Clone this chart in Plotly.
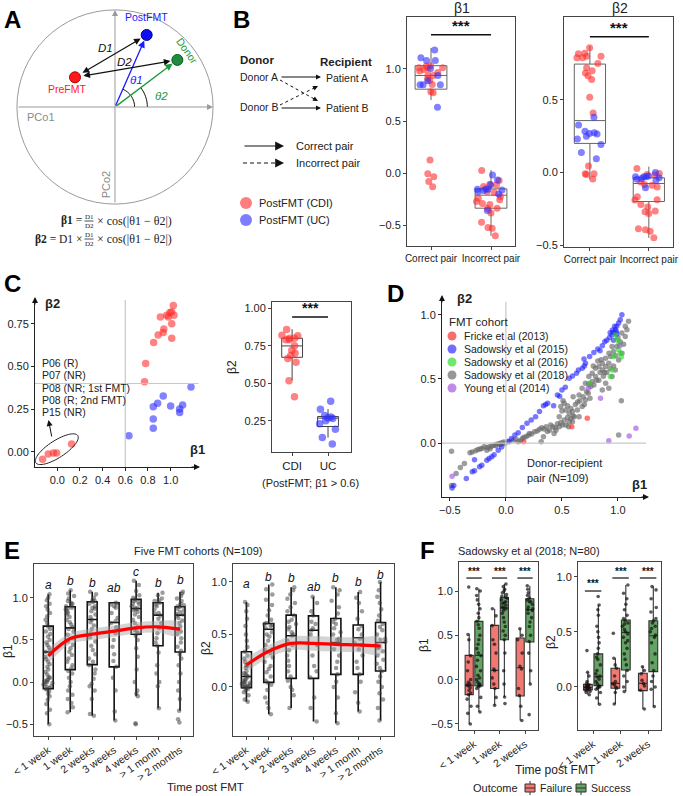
import math
import plotly.graph_objects as go

W, H = 683, 796
FONT = "Liberation Sans, Arial, sans-serif"
SERIF = "Liberation Serif, DejaVu Serif, serif"


def fx(px):
    return px / W


def fy(py):
    return 1 - py / H


# ======================= DATA =======================
# Panel A schematic (PCoA positions)
schem_names = ["PreFMT", "PostFMT", "Donor"]
schem_pc1 = [-0.408, 0.323, 0.636]
schem_pc2 = [0.306, 0.742, 0.485]

# Panels B/C: correct donor-recipient pairs
cdi_beta1 = [1.024, 0.994, 1.009, 0.965, 0.98, 0.91, 1.03, 1.01, 0.94, 0.935, 0.89, 0.85, 1.01, 0.78, 0.77,
             0.126, -0.006, -0.035, -0.08, -0.13]
cdi_beta2 = [0.858, 0.817, 0.82, 0.80, 0.79, 0.79, 0.80, 0.75, 0.72, 0.70, 0.685, 0.64, 0.665, 0.517, 0.41,
             0.045, -0.008, -0.008, -0.014, -0.045]
uc_beta1 = [1.18, 0.935, 0.885, 0.847, 1.0, 1.106, 1.08, 1.08, 0.847, 0.847, 0.632]
uc_beta2 = [0.38, 0.327, 0.284, 0.264, 0.268, 0.274, 0.25, 0.23, 0.192, 0.137, 0.094]

# Panel B: incorrect pairs
inc_cdi_beta1 = [0.026, -0.105, -0.07, -0.128, -0.112, -0.24, -0.27, -0.29, -0.185, -0.224, -0.335, -0.335,
                 -0.38, -0.47, -0.52, -0.527, -0.60, -0.255, -0.30, -0.176]
inc_uc_beta1 = [-0.016, -0.11, -0.064, -0.15, -0.153, -0.153, -0.176, -0.198, -0.358, -0.16, -0.166]
inc_cdi_beta2 = [0.028, -0.007, -0.014, -0.018, -0.065, -0.088, -0.10, -0.168, -0.187, -0.19, -0.22, -0.237,
                 -0.265, -0.27, -0.283, -0.405, -0.394, -0.45, -0.387, -0.083]
inc_uc_beta2 = [0.0, -0.03, -0.037, -0.03, -0.041, -0.053, -0.03, -0.106, -0.025, -0.046]

pair_cats = ["Correct pair", "Incorrect pair"]
b1_q1, b1_med, b1_q3, b1_lo, b1_hi = [0.805, -0.335], [0.936, -0.21], [1.03, -0.15], [0.70, -0.60], [1.20, 0.03]
b2_q1, b2_med, b2_q3, b2_lo, b2_hi = [0.20, -0.20], [0.357, -0.076], [0.746, -0.037], [-0.046, -0.45], [0.87, 0.04]

# Panel C (right): correct pairs with beta1 > 0.6
c_cats = ["CDI", "UC"]
c2_q1, c2_med, c2_q3, c2_lo, c2_hi = [0.673, 0.211], [0.749, 0.267], [0.80, 0.278], [0.52, 0.137], [0.86, 0.327]
c_labels = ["P06 (R)", "P07 (NR)", "P08 (NR; 1st FMT)", "P08 (R; 2nd FMT)", "P15 (NR)"]

# Panel D: all donor-recipient pairs, (beta1, beta2) by cohort
d_cohorts = ["Fricke et al (2013)", "Sadowsky et al (2015)", "Sadowsky et al (2016)",
             "Sadowsky et al (2018)", "Young et al (2014)"]
d_fricke = [(0.726, 0.193), (0.588, 0.128), (0.159, 0.01)]
d_s15 = [(-0.48, -0.35), (-0.465, -0.33), (-0.353, -0.276), (-0.30, -0.224), (-0.28, -0.215), (-0.28, -0.13),
         (-0.235, -0.185), (-0.215, -0.172), (-0.17, -0.133), (-0.15, -0.12), (-0.126, -0.107), (-0.105, -0.09),
         (-0.068, -0.055), (-0.038, -0.03), (0.02, 0.015), (0.05, 0.036), (0.08, 0.063), (0.11, 0.08),
         (0.147, 0.122), (0.188, 0.154), (0.226, 0.18), (0.265, 0.206), (0.30, 0.245), (0.335, 0.29),
         (0.355, 0.30), (0.373, 0.31), (0.426, 0.29), (0.46, 0.375), (0.48, 0.365), (0.50, 0.414),
         (0.53, 0.435), (0.565, 0.505), (0.594, 0.523), (0.63, 0.544), (0.647, 0.57), (0.682, 0.583),
         (0.70, 0.60), (0.71, 0.622), (0.697, 0.654), (0.747, 0.674), (0.785, 0.706), (0.82, 0.732),
         (0.86, 0.758), (0.882, 0.79), (0.90, 0.80), (0.924, 0.823), (0.947, 0.844), (0.96, 0.862),
         (0.976, 0.883), (0.99, 0.909), (1.006, 0.935), (1.02, 0.96), (1.035, 1.0), (0.95, 0.88),
         (0.97, 0.91), (0.985, 0.87), (0.93, 0.86), (0.99, 0.85), (0.96, 0.80), (0.84, 0.72)]
d_s16 = [(0.976, 0.844), (0.99, 0.805), (1.006, 0.727), (1.02, 0.70), (1.03, 0.67), (0.947, 0.57),
         (0.932, 0.518), (0.747, 0.466), (0.96, 0.674), (1.01, 0.78)]
d_s18 = [(-0.485, -0.33), (-0.485, -0.063), (-0.444, -0.237), (-0.406, -0.19), (-0.37, -0.16), (-0.32, -0.076),
         (-0.30, -0.07), (-0.27, -0.06), (-0.25, -0.05), (-0.23, -0.047), (-0.215, -0.042), (-0.194, -0.029),
         (-0.17, -0.034), (-0.17, -0.055), (-0.147, -0.029), (-0.14, -0.044), (-0.126, -0.023), (-0.106, -0.016),
         (-0.09, -0.02), (-0.082, -0.01), (-0.06, -0.003), (-0.05, -0.012), (-0.038, 0.003), (-0.018, 0.008),
         (-0.01, -0.005), (0.03, 0.01), (0.065, 0.023), (0.09, 0.03), (0.11, 0.01), (0.13, 0.02),
         (0.147, 0.036), (0.16, 0.045), (0.18, 0.05), (0.2, 0.06), (0.21, 0.075), (0.23, 0.07), (0.256, 0.088),
         (0.28, 0.095), (0.30, 0.107), (0.315, 0.01), (0.32, 0.12), (0.335, 0.05), (0.34, 0.11), (0.36, 0.128),
         (0.37, 0.09), (0.39, 0.10), (0.40, 0.14), (0.418, 0.128), (0.43, 0.075), (0.44, 0.12), (0.447, 0.10),
         (0.46, 0.15), (0.476, 0.128), (0.49, 0.16), (0.506, 0.14), (0.52, 0.18), (0.535, 0.14), (0.55, 0.2),
         (0.56, 0.128), (0.565, 0.167), (0.58, 0.19), (0.594, 0.167), (0.60, 0.21), (0.476, 0.206),
         (0.49, 0.284), (0.50, 0.25), (0.51, 0.33), (0.52, 0.31), (0.535, 0.258), (0.55, 0.29), (0.565, 0.232),
         (0.58, 0.27), (0.594, 0.245), (0.61, 0.206), (0.62, 0.30), (0.638, 0.258), (0.653, 0.206), (0.66, 0.33),
         (0.68, 0.284), (0.69, 0.36), (0.71, 0.336), (0.72, 0.40), (0.735, 0.388), (0.74, 0.46), (0.756, 0.44),
         (0.77, 0.48), (0.785, 0.453), (0.80, 0.518), (0.81, 0.49), (0.83, 0.49), (0.84, 0.55), (0.86, 0.57),
         (0.87, 0.52), (0.89, 0.596), (0.90, 0.55), (0.918, 0.622), (0.86, 0.622), (0.83, 0.596), (0.80, 0.583),
         (0.77, 0.544), (0.74, 0.518), (0.71, 0.466), (0.68, 0.427), (0.653, 0.375), (0.89, 0.466),
         (0.918, 0.427), (0.86, 0.414), (0.947, 0.518), (0.976, 0.57), (0.96, 0.60), (1.006, 0.648),
         (0.98, 0.68), (1.035, 0.70), (1.065, 0.83), (1.08, 0.883), (1.094, 0.948), (1.065, 0.909),
         (1.035, 0.857), (1.02, 0.79), (0.99, 0.753), (0.96, 0.714), (0.935, 0.674), (0.89, 0.661),
         (0.947, 0.753), (1.0, 0.82), (1.05, 0.77), (0.92, 0.70), (0.85, 0.65), (0.82, 0.64), (0.88, 0.55),
         (0.78, 0.60), (0.93, 0.58), (1.03, 0.33), (1.006, 0.063), (0.75, 0.35), (0.70, 0.30), (0.64, 0.32),
         (0.60, 0.36)]
d_young = [(-0.48, -0.258), (0.918, 0.018), (1.1, 0.055), (1.16, 0.115), (0.844, 0.349), (0.735, 0.427),
           (1.015, 0.758)]

# Panel E: five FMT cohorts, by time post FMT
time_cats = ["< 1 week", "1 week", "2 weeks", "3 weeks", "4 weeks", "> 1 month", "> 2 months"]
e1_vals = [
    [1.04, 1.0, 0.97, 0.93, 0.9, 0.86, 0.82, 0.78, 0.74, 0.7, 0.66, 0.63, 0.6, 0.57, 0.54, 0.5, 0.47, 0.44, 0.41,
     0.38, 0.36, 0.33, 0.3, 0.27, 0.24, 0.21, 0.18, 0.15, 0.12, 0.09, 0.06, 0.03, 0.01, -0.01, -0.03, -0.05,
     -0.07, -0.09, -0.11, -0.14, -0.17, -0.21, -0.26, -0.33, -0.37, -0.5, 0.02, -0.02, 0.0, 0.05, -0.08, -0.06],
    [1.09, 1.05, 1.02, 0.99, 0.96, 0.94, 0.92, 0.9, 0.88, 0.86, 0.84, 0.82, 0.8, 0.77, 0.74, 0.71, 0.68, 0.65,
     0.63, 0.6, 0.56, 0.52, 0.48, 0.44, 0.4, 0.36, 0.32, 0.28, 0.24, 0.2, 0.16, 0.13, 0.1, 0.05, 0.0, -0.05, -0.1,
     -0.15, -0.2, -0.25, -0.3, -0.357, 0.93, 0.87],
    [1.07, 1.04, 1.0, 0.97, 0.95, 0.93, 0.9, 0.87, 0.84, 0.8, 0.77, 0.74, 0.71, 0.67, 0.63, 0.58, 0.53, 0.48,
     0.43, 0.38, 0.33, 0.28, 0.24, 0.2, 0.15, 0.1, 0.04, -0.02, -0.05, -0.1, -0.2, -0.38, -0.4, 0.96, 0.88],
    [0.94, 0.93, 0.92, 0.88, 0.82, 0.76, 0.7, 0.65, 0.58, 0.5, 0.42, 0.33, 0.25, 0.18, 0.05, -0.1, -0.35, -0.456,
     0.72, 0.9],
    [1.2, 1.15, 1.08, 1.03, 1.0, 0.98, 0.96, 0.95, 0.93, 0.9, 0.88, 0.86, 0.85, 0.83, 0.8, 0.77, 0.74, 0.7, 0.66,
     0.62, 0.58, 0.55, 0.5, 0.4, 0.3, 0.15, 0.0, -0.1, -0.14, -0.17, -0.49, -0.5, 0.92, 0.87, 0.6],
    [1.06, 1.03, 0.99, 0.96, 0.94, 0.92, 0.9, 0.86, 0.82, 0.79, 0.75, 0.7, 0.64, 0.58, 0.52, 0.47, 0.43, 0.35,
     0.2, 0.1, 0.0, -0.05, -0.31, 0.97, 0.81],
    [1.07, 1.05, 1.02, 0.99, 0.96, 0.93, 0.91, 0.89, 0.87, 0.85, 0.83, 0.81, 0.79, 0.76, 0.73, 0.7, 0.66, 0.62,
     0.57, 0.52, 0.47, 0.42, 0.37, 0.33, 0.28, 0.2, 0.1, 0.0, -0.1, -0.2, -0.34, -0.44, -0.48, 0.9, 0.8, 0.6],
]
e2_vals = [
    [0.81, 0.78, 0.72, 0.65, 0.58, 0.5, 0.44, 0.38, 0.335, 0.3, 0.27, 0.24, 0.21, 0.18, 0.15, 0.13, 0.11, 0.1,
     0.08, 0.07, 0.06, 0.05, 0.04, 0.03, 0.02, 0.01, 0.0, 0.0, -0.01, -0.02, -0.03, -0.05, -0.08, -0.12, -0.14,
     0.02, 0.04, 0.12, 0.2, 0.0],
    [0.975, 0.93, 0.88, 0.83, 0.78, 0.73, 0.68, 0.64, 0.61, 0.6, 0.59, 0.58, 0.56, 0.52, 0.48, 0.44, 0.4, 0.36,
     0.32, 0.28, 0.24, 0.2, 0.17, 0.14, 0.1, 0.06, 0.04, 0.02, -0.03, -0.1, -0.15, -0.2, -0.26, 0.5, 0.35],
    [0.95, 0.92, 0.88, 0.84, 0.8, 0.76, 0.72, 0.68, 0.64, 0.6, 0.57, 0.55, 0.52, 0.49, 0.44, 0.4, 0.35, 0.3,
     0.25, 0.2, 0.15, 0.1, 0.06, 0.0, -0.03, -0.08, -0.2, 0.62, 0.5],
    [0.86, 0.8, 0.72, 0.68, 0.62, 0.56, 0.54, 0.5, 0.4, 0.3, 0.2, 0.15, 0.09, -0.1, -0.2, -0.33, 0.6],
    [0.95, 0.92, 0.88, 0.82, 0.76, 0.7, 0.65, 0.6, 0.56, 0.52, 0.5, 0.46, 0.42, 0.36, 0.3, 0.24, 0.18, 0.12,
     0.05, 0.0, -0.1, -0.25, -0.345, 0.62, 0.45],
    [0.905, 0.85, 0.8, 0.72, 0.65, 0.58, 0.55, 0.5, 0.46, 0.42, 0.36, 0.3, 0.24, 0.18, 0.12, 0.05, -0.05, -0.15,
     -0.234, 0.4],
    [1.0, 0.92, 0.86, 0.8, 0.74, 0.68, 0.63, 0.6, 0.57, 0.54, 0.5, 0.46, 0.43, 0.4, 0.37, 0.34, 0.3, 0.26,
     0.22, 0.18, 0.15, 0.1, 0.05, 0.0, -0.06, -0.12, -0.2, -0.32, 0.45, 0.38],
]
e1_q1 = [-0.08, 0.147, 0.206, 0.18, 0.567, 0.43, 0.357]
e1_med = [0.357, 0.643, 0.742, 0.706, 0.873, 0.794, 0.794]
e1_q3 = [0.663, 0.893, 0.952, 0.94, 0.98, 0.94, 0.893]
e1_lo = [-0.50, -0.357, -0.40, -0.456, -0.17, -0.31, -0.34]
e1_hi = [1.04, 1.09, 1.07, 0.94, 1.20, 1.06, 1.07]
e2_q1 = [-0.006, 0.044, 0.082, 0.082, 0.12, 0.12, 0.152]
e2_med = [0.10, 0.55, 0.487, 0.54, 0.424, 0.468, 0.424]
e2_q3 = [0.335, 0.604, 0.684, 0.677, 0.652, 0.59, 0.614]
e2_lo = [-0.14, -0.26, -0.20, -0.33, -0.345, -0.234, -0.32]
e2_hi = [0.81, 0.975, 0.95, 0.86, 0.95, 0.905, 1.0]
e1_fit = [0.31, 0.516, 0.567, 0.603, 0.643, 0.655, 0.627]
e1_band_lo = [0.22, 0.45, 0.50, 0.535, 0.575, 0.585, 0.545]
e1_band_hi = [0.40, 0.58, 0.635, 0.67, 0.71, 0.725, 0.71]
e2_fit = [0.21, 0.34, 0.415, 0.415, 0.405, 0.40, 0.39]
e2_band_lo = [0.14, 0.28, 0.35, 0.345, 0.335, 0.33, 0.31]
e2_band_hi = [0.28, 0.40, 0.48, 0.485, 0.475, 0.47, 0.47]
e1_letters = ["a", "b", "b", "ab", "c", "b", "b"]
e2_letters = ["a", "b", "b", "ab", "b", "b", "b"]

# Panel F: Sadowsky et al (2018), by outcome
f_cats = ["< 1 week", "1 week", "2 weeks"]
f1_fail = [[1.045, 0.51, 0.45, 0.27, 0.2, 0.1, 0.0, -0.03, -0.05, -0.06, -0.07, -0.09, -0.12, -0.15, -0.17,
            -0.22, -0.3, -0.38, -0.5],
           [0.8, 0.72, 0.61, 0.45, 0.4, 0.3, 0.12, 0.1, 0.02, -0.05, -0.1, -0.2, -0.29],
           [0.575, 0.5, 0.45, 0.3, 0.15, 0.12, -0.1, -0.18, -0.3, -0.46]]
f1_succ = [[1.026, 1.0, 0.95, 0.9, 0.85, 0.8, 0.75, 0.7, 0.66, 0.62, 0.58, 0.5, 0.45, 0.4, 0.35, 0.3, 0.27, 0.22,
            0.15, 0.1, 0.05, 0.0, -0.03, -0.05, -0.07, -0.08, -0.1, -0.2, -0.3, -0.365, 0.02, -0.06],
           [1.08, 1.05, 1.02, 1.0, 0.98, 0.96, 0.94, 0.92, 0.9, 0.88, 0.86, 0.84, 0.82, 0.81, 0.8, 0.78, 0.75, 0.7,
            0.65, 0.6, 0.55, 0.5, 0.45, 0.3, 0.1, -0.05, -0.195, -0.27, 0.93, 0.87],
           [1.06, 1.02, 0.98, 0.95, 0.92, 0.9, 0.88, 0.85, 0.82, 0.8, 0.78, 0.75, 0.7, 0.65, 0.6, 0.5, 0.43, 0.3,
            0.1, -0.05, -0.395, 0.88, 0.79]]
f2_fail = [[0.33, 0.133, 0.1, 0.05, 0.03, 0.02, 0.01, 0.0, 0.0, -0.005, -0.01, -0.02, -0.025, -0.03, -0.04,
            -0.05, -0.07, 0.015],
           [0.486, 0.26, 0.2, 0.17, 0.1, 0.05, 0.03, 0.02, 0.0, -0.01, -0.05, -0.154],
           [0.184, 0.15, 0.12, 0.06, 0.03, 0.01, -0.03, -0.2]]
f2_succ = [[0.82, 0.743, 0.7, 0.65, 0.55, 0.5, 0.45, 0.4, 0.35, 0.3, 0.27, 0.25, 0.2, 0.15, 0.12, 0.1, 0.09, 0.07,
            0.05, 0.03, 0.01, 0.0, 0.0, -0.01, -0.02, -0.05, -0.1, -0.157],
           [0.925, 0.85, 0.8, 0.75, 0.7, 0.65, 0.62, 0.6, 0.58, 0.55, 0.52, 0.5, 0.48, 0.45, 0.4, 0.35, 0.3, 0.25,
            0.2, 0.15, 0.1, 0.05, 0.0, -0.042, 0.57, 0.42],
           [0.91, 0.88, 0.8, 0.72, 0.68, 0.62, 0.6, 0.58, 0.55, 0.5, 0.47, 0.45, 0.4, 0.3, 0.22, 0.15, 0.1, 0.05,
            0.0, -0.02, -0.178, 0.53]]
f1f_q1, f1f_med, f1f_q3 = [-0.169, -0.10, -0.184], [-0.064, 0.105, 0.135], [0.274, 0.613, 0.47]
f1f_lo, f1f_hi = [-0.50, -0.29, -0.46], [0.51, 0.80, 0.575]
f1s_q1, f1s_med, f1s_q3 = [-0.071, 0.45, 0.425], [0.274, 0.81, 0.79], [0.658, 0.925, 0.914]
f1s_lo, f1s_hi = [-0.365, -0.195, -0.045], [1.026, 1.08, 1.06]
f2f_q1, f2f_med, f2f_q3 = [-0.027, -0.012, -0.033], [-0.006, 0.033, 0.033], [0.024, 0.17, 0.124]
f2f_lo, f2f_hi = [-0.07, -0.154, -0.2], [0.133, 0.26, 0.184]
f2s_q1, f2s_med, f2s_q3 = [0.012, 0.154, 0.139], [0.094, 0.495, 0.465], [0.30, 0.607, 0.60]
f2s_lo, f2s_hi = [-0.157, -0.042, -0.178], [0.743, 0.925, 0.91]

# ======================= FIGURE =======================
fig = go.Figure()
annotations = []
shapes = []


def xid(n):
    return "x" if n == 1 else f"x{n}"


def yid(n):
    return "y" if n == 1 else f"y{n}"


def set_axes(n, xl, xr, yt, yb, xrange, yrange, xkw, ykw):
    fig.update_layout({
        ("xaxis" if n == 1 else f"xaxis{n}"): dict(domain=[fx(xl), fx(xr)], anchor=yid(n), range=xrange, **xkw),
        ("yaxis" if n == 1 else f"yaxis{n}"): dict(domain=[fy(yb), fy(yt)], anchor=xid(n), range=yrange, **ykw),
    })


AXC = "#444"
frame = dict(showline=True, mirror=True, linecolor=AXC, linewidth=1, ticks="outside", ticklen=3,
             tickcolor=AXC, showgrid=False, zeroline=False, automargin=False,
             tickfont=dict(size=11, color="#222"))
open_ax = dict(showline=True, mirror=False, linecolor="#222", linewidth=1, ticks="outside", ticklen=3,
               tickcolor="#222", showgrid=False, zeroline=False, automargin=False,
               tickfont=dict(size=11, color="#222"))
hidden = dict(visible=False, showgrid=False, zeroline=False, automargin=False)


def cat_ax(cats, **extra):
    d = dict(frame)
    d.update(type="category", categoryorder="array", categoryarray=cats)
    d.update(extra)
    return d


def num_ax(base, **extra):
    d = dict(base)
    d.update(extra)
    return d


# --- axes ---
set_axes(1, 14, 216, 7, 207, [-1.03, 1.03], [-1.03, 1.03], hidden, hidden)
set_axes(2, 407, 515, 17, 246, [-0.4, 1.4], [-0.697, 1.496],
         cat_ax(pair_cats, tickangle=0, tickfont=dict(size=10)),
         num_ax(frame, tickvals=[-0.5, 0, 0.5, 1.0], tickformat=".1f"))
set_axes(3, 564, 673, 17, 247, [-0.44, 1.41], [-0.513, 1.07],
         cat_ax(pair_cats, tickangle=0, tickfont=dict(size=10)),
         num_ax(frame, tickvals=[-0.5, 0, 0.5], tickformat=".1f"))
set_axes(4, 35, 197, 300, 467, [-0.197, 1.233], [-0.09, 0.89],
         num_ax(open_ax, tickvals=[0, 0.2, 0.4, 0.6, 0.8, 1.0], tickformat=".1f"),
         num_ax(open_ax, tickvals=[0, 0.25, 0.5, 0.75], tickformat=".2f"))
set_axes(5, 272, 351, 302, 452, [-0.56, 1.64], [0.041, 1.042],
         cat_ax(c_cats, tickangle=0, tickfont=dict(size=11.5)),
         num_ax(frame, tickvals=[0.25, 0.5, 0.75, 1.0], tickformat=".2f"))
set_axes(6, 442, 646, 298, 497, [-0.57, 1.25], [-0.42, 1.13],
         num_ax(open_ax, tickvals=[-0.5, 0, 0.5, 1.0], tickformat=".1f"),
         num_ax(open_ax, tickvals=[0, 0.5, 1.0], tickformat=".1f"))
set_axes(7, 34, 193, 564, 736, [-0.65, 6.59], [-0.64, 1.40],
         cat_ax(time_cats, tickangle=-35, tickfont=dict(size=10.5)),
         num_ax(frame, tickvals=[-0.5, 0, 0.5, 1.0], tickformat=".1f"))
set_axes(8, 233, 394, 564, 736, [-0.6, 6.6], [-0.467, 1.171],
         cat_ax(time_cats, tickangle=-35, tickfont=dict(size=10.5)),
         num_ax(frame, tickvals=[0, 0.5, 1.0], tickformat=".1f"))
set_axes(9, 459, 538, 562, 730, [-0.59, 2.51], [-0.568, 1.328],
         cat_ax(f_cats, tickangle=-35, tickfont=dict(size=10.5)),
         num_ax(frame, tickvals=[-0.5, 0, 0.5, 1.0], tickformat=".1f"))
set_axes(10, 578, 661, 562, 730, [-0.55, 2.47], [-0.39, 1.133],
         cat_ax(f_cats, tickangle=-35, tickfont=dict(size=10.5)),
         num_ax(frame, tickvals=[0, 0.5, 1.0], tickformat=".1f"))


def stat_box(n, cats, q1, med, q3, lo, hi, color, lw=1.0, fill="rgba(0,0,0,0)", width=None, group="g"):
    return go.Box(x=cats, q1=q1, median=med, q3=q3, lowerfence=lo, upperfence=hi,
                  xaxis=xid(n), yaxis=yid(n), line=dict(color=color, width=lw), fillcolor=fill,
                  whiskerwidth=0, boxpoints=False, width=width, offsetgroup=group,
                  hoverinfo="skip", showlegend=False)


def pts_box(n, xs, ys, color, size, opacity, width=None, jitter=1.0, group="g"):
    return go.Box(x=xs, y=ys, boxpoints="all", jitter=jitter, pointpos=0,
                  xaxis=xid(n), yaxis=yid(n), line=dict(color="rgba(0,0,0,0)", width=0),
                  fillcolor="rgba(0,0,0,0)", whiskerwidth=0, width=width, offsetgroup=group,
                  marker=dict(color=color, size=size, opacity=opacity, line=dict(width=0)),
                  hoverinfo="skip", showlegend=False)


RED = "#FF2E2E"
BLUE = "#2E2EFF"

# ---------------- Panel A ----------------
shapes.append(dict(type="circle", xref="x", yref="y", x0=-1, y0=-1, x1=1, y1=1,
                   line=dict(color="#9a9a9a", width=1)))
for (hx, hy, tx, ty) in [(1.0, 0, -1.0, 0), (0, 1.0, 0, -1.0)]:
    annotations.append(dict(x=hx, y=hy, ax=tx, ay=ty, xref="x", yref="y", axref="x", ayref="y", text="",
                            showarrow=True, arrowhead=2, arrowsize=1.2, arrowwidth=1, arrowcolor="#9a9a9a"))
pre = (schem_pc1[0], schem_pc2[0])
post = (schem_pc1[1], schem_pc2[1])
don = (schem_pc1[2], schem_pc2[2])
annotations.append(dict(x=post[0], y=post[1], ax=0, ay=0, xref="x", yref="y", axref="x", ayref="y", text="",
                        showarrow=True, arrowhead=2, arrowsize=1.1, arrowwidth=1.3, arrowcolor="#1a1aff",
                        standoff=6))
annotations.append(dict(x=don[0], y=don[1], ax=0, ay=0, xref="x", yref="y", axref="x", ayref="y", text="",
                        showarrow=True, arrowhead=2, arrowsize=1.1, arrowwidth=1.3, arrowcolor="#1a9a3a",
                        standoff=6))
for a, b in [(post, pre), (don, pre)]:
    annotations.append(dict(x=a[0], y=a[1], ax=b[0], ay=b[1], xref="x", yref="y", axref="x", ayref="y",
                            text="", showarrow=True, arrowhead=2, startarrowhead=2, arrowside="end+start",
                            arrowsize=1.1, startarrowsize=1.1, arrowwidth=1.2, arrowcolor="#111",
                            standoff=7, startstandoff=7))


def arc_path(r, a_deg):
    a = math.radians(a_deg)
    k = 4 / 3 * math.tan(a / 4) * r
    p0 = (r, 0)
    p1 = (r, k)
    p2 = (r * math.cos(a) + k * math.sin(a), r * math.sin(a) - k * math.cos(a))
    p3 = (r * math.cos(a), r * math.sin(a))
    return "M {} {} C {} {}, {} {}, {} {}".format(p0[0], p0[1], p1[0], p1[1], p2[0], p2[1], p3[0], p3[1])


ang_post = math.degrees(math.atan2(post[1], post[0]))
ang_don = math.degrees(math.atan2(don[1], don[0]))
shapes.append(dict(type="path", xref="x", yref="y", path=arc_path(0.20, ang_post), line=dict(color="#111", width=1)))
shapes.append(dict(type="path", xref="x", yref="y", path=arc_path(0.33, ang_don), line=dict(color="#111", width=1)))

fig.add_trace(go.Scatter(x=schem_pc1, y=schem_pc2, mode="markers", xaxis="x", yaxis="y",
                         marker=dict(size=11, color=["#ff1a1a", "#1010ee", "#1e8c3c"],
                                     line=dict(color=["#b00000", "#00008a", "#0c5a22"], width=1)),
                         hoverinfo="skip", showlegend=False))


def atext(x, y, s, ref=("x", "y"), size=11, color="#222", xanchor="center", yanchor="middle", angle=0, family=None):
    d = dict(x=x, y=y, xref=ref[0], yref=ref[1], text=s, showarrow=False, xanchor=xanchor, yanchor=yanchor,
             textangle=angle, font=dict(size=size, color=color))
    if family:
        d["font"]["family"] = family
    return d


def ptext(px, py, s, **kw):
    return atext(fx(px), fy(py), s, ref=("paper", "paper"), **kw)


annotations += [
    atext(post[0], post[1] + 0.1, "PostFMT", size=10.5, color="#1a1aff", yanchor="bottom"),
    atext(0.74, 0.58, "Donor", size=10.5, color="#1a9a3a", angle=55),
    atext(-0.48, 0.19, "PreFMT", size=10.5, color="#ff1a1a"),
    atext(-0.755, -0.105, "PCo1", size=11, color="#8a8a8a"),
    atext(-0.095, -0.80, "PCo2", size=11, color="#8a8a8a", angle=-90),
    atext(-0.10, 0.61, "<i>D1</i>", size=11.5, color="#111"),
    atext(0.10, 0.46, "<i>D2</i>", size=11.5, color="#111"),
    atext(0.22, 0.28, "<i>θ1</i>", size=11.5, color="#1a1aff"),
    atext(0.47, 0.11, "<i>θ2</i>", size=11.5, color="#1a9a3a"),
]
# formulas
for (py, left) in [(221, "<b>β1</b> ="), (239, "<b>β2</b> = D1 ×")]:
    annotations.append(ptext(84, py, left, size=11.5, xanchor="right", family=SERIF))
    annotations.append(ptext(89, py - 4.5, "D1", size=7, family=SERIF))
    annotations.append(ptext(89, py + 4.5, "D2", size=7, family=SERIF))
    shapes.append(dict(type="line", xref="paper", yref="paper", x0=fx(84.5), x1=fx(93.5), y0=fy(py), y1=fy(py),
                       line=dict(color="#222", width=0.8)))
    annotations.append(ptext(95, py, "× cos(|θ1 − θ2|)", size=12, xanchor="left", family=SERIF))

# ---------------- Panel B (diagram) ----------------
annotations += [
    ptext(238, 60, "<b>Donor</b>", size=11.5, xanchor="left"),
    ptext(318, 62, "<b>Recipient</b>", size=11.5, xanchor="left"),
    ptext(238, 77, "Donor A", size=10.5, xanchor="left"),
    ptext(324, 78, "Patient A", size=10.5, xanchor="left"),
    ptext(238, 107, "Donor B", size=10.5, xanchor="left"),
    ptext(324, 108, "Patient B", size=10.5, xanchor="left"),
    ptext(294, 146, "Correct pair", size=11, xanchor="left"),
    ptext(294, 163, "Incorrect pair", size=11, xanchor="left"),
    ptext(257, 203, "PostFMT (CDI)", size=11, xanchor="left"),
    ptext(257, 220, "PostFMT (UC)", size=11, xanchor="left"),
]


def parrow(hx, hy, tx, ty, size=1.0, width=1.0):
    return dict(x=fx(hx), y=fy(hy), xref="paper", yref="paper", ax=tx - hx, ay=ty - hy, text="",
                showarrow=True, arrowhead=2, arrowsize=size, arrowwidth=width, arrowcolor="#111")


def pline(x0, y0, x1, y1, color="#111", width=1.0, dash="solid"):
    return dict(type="line", xref="paper", yref="paper", x0=fx(x0), y0=fy(y0), x1=fx(x1), y1=fy(y1),
                line=dict(color=color, width=width, dash=dash))


annotations += [parrow(321, 77, 280, 77), parrow(321, 108, 280, 108)]
for (t, h) in [((280, 80), (318, 101)), ((280, 105), (318, 86))]:
    shapes.append(pline(t[0], t[1], h[0] - 3, h[1] - (h[1] - t[1]) * 3 / 38, dash="3px,3px"))
    annotations.append(parrow(h[0], h[1], h[0] - 6, h[1] - (h[1] - t[1]) * 6 / 38))
annotations.append(parrow(284, 146, 243, 146, size=1.6, width=1.1))
shapes.append(pline(243, 163, 276, 163, dash="4px,3px"))
annotations.append(parrow(284, 163, 276, 163, size=1.6, width=1.1))
for (cy, col) in [(203, "rgba(255,70,70,0.7)"), (220, "rgba(70,70,255,0.7)")]:
    shapes.append(dict(type="circle", xref="paper", yref="paper", x0=fx(240), x1=fx(252), y0=fy(cy + 6),
                       y1=fy(cy - 6), fillcolor=col, line=dict(width=0)))

# ---------------- Panel B (box plots) ----------------
corr_x_cdi = [pair_cats[0]] * len(cdi_beta1) + [pair_cats[1]] * len(inc_cdi_beta1)
corr_x_uc = [pair_cats[0]] * len(uc_beta1) + [pair_cats[1]] * len(inc_uc_beta1)
fig.add_trace(stat_box(2, pair_cats, b1_q1, b1_med, b1_q3, b1_lo, b1_hi, "#666", width=0.53))
fig.add_trace(pts_box(2, corr_x_cdi, cdi_beta1 + inc_cdi_beta1, RED, 7, 0.6, width=0.53))
fig.add_trace(pts_box(2, corr_x_uc, uc_beta1 + inc_uc_beta1, BLUE, 7, 0.6, width=0.53))
corr_x_cdi2 = [pair_cats[0]] * len(cdi_beta2) + [pair_cats[1]] * len(inc_cdi_beta2)
corr_x_uc2 = [pair_cats[0]] * len(uc_beta2) + [pair_cats[1]] * len(inc_uc_beta2)
fig.add_trace(stat_box(3, pair_cats, b2_q1, b2_med, b2_q3, b2_lo, b2_hi, "#666", width=0.53))
fig.add_trace(pts_box(3, corr_x_cdi2, cdi_beta2 + inc_cdi_beta2, RED, 7, 0.6, width=0.53))
fig.add_trace(pts_box(3, corr_x_uc2, uc_beta2 + inc_uc_beta2, BLUE, 7, 0.6, width=0.53))
annotations += [ptext(462, 8, "β1", size=14), ptext(620, 8, "β2", size=14)]
for n, ys, yl in [(2, 1.41, 1.326), (3, 1.0, 0.934)]:
    shapes.append(dict(type="line", xref=xid(n), yref=yid(n), x0=0, x1=1, y0=yl, y1=yl,
                       line=dict(color="#111", width=1.3)))
    annotations.append(atext(0.5, ys, "<b>***</b>", ref=(xid(n), yid(n)), size=15, color="#111"))

# ---------------- Panel C ----------------
shapes.append(dict(type="line", xref="x4", yref="y4 domain", x0=0.6, x1=0.6, y0=0, y1=1,
                   line=dict(color="#c8c8c8", width=1.2)))
shapes.append(dict(type="line", xref="x4 domain", yref="y4", x0=0, x1=1.01, y0=0.4, y1=0.4,
                   line=dict(color="#c8c8c8", width=1.2)))
fig.add_trace(go.Scatter(x=cdi_beta1, y=cdi_beta2, mode="markers", xaxis="x4", yaxis="y4",
                         marker=dict(color=RED, size=7.5, opacity=0.6), hoverinfo="skip", showlegend=False))
fig.add_trace(go.Scatter(x=uc_beta1, y=uc_beta2, mode="markers", xaxis="x4", yaxis="y4",
                         marker=dict(color=BLUE, size=7.5, opacity=0.6), hoverinfo="skip", showlegend=False))
annotations += [parrow(200, 467, 190, 467, size=1.2), parrow(35, 297, 35, 306, size=1.2),
                ptext(197, 449, "<b>β1</b>", size=13), ptext(52, 303, "<b>β2</b>", size=13)]
for i, lab in enumerate(c_labels):
    annotations.append(ptext(40, 363 + i * 12.3, lab, size=10.5, xanchor="left"))
ecx, ecy, ea, eb, ephi = 56.8, 449.2, 25.0, 8.5, math.radians(33)
pts = []
for k in range(0, 73):
    t = 2 * math.pi * k / 72
    px = ecx + ea * math.cos(t) * math.cos(ephi) - eb * math.sin(t) * math.sin(ephi)
    py = ecy - (ea * math.cos(t) * math.sin(ephi) + eb * math.sin(t) * math.cos(ephi))
    pts.append(f"{fx(px):.5f},{fy(py):.5f}")
shapes.append(dict(type="path", xref="paper", yref="paper", path="M " + " L ".join(pts) + " Z",
                   line=dict(color="#222", width=1)))
annotations.append(parrow(48.5, 420, 52, 438, size=1.2))

cdi_hi = [b2 for b1, b2 in zip(cdi_beta1, cdi_beta2) if b1 > 0.6]
uc_hi = [b2 for b1, b2 in zip(uc_beta1, uc_beta2) if b1 > 0.6]
fig.add_trace(stat_box(5, c_cats, c2_q1, c2_med, c2_q3, c2_lo, c2_hi, "#444", width=0.58))
fig.add_trace(pts_box(5, [c_cats[0]] * len(cdi_hi), cdi_hi, RED, 7.5, 0.6, width=0.58))
fig.add_trace(pts_box(5, [c_cats[1]] * len(uc_hi), uc_hi, BLUE, 7.5, 0.6, width=0.58))
shapes.append(dict(type="line", xref="x5", yref="y5", x0=0, x1=1, y0=0.942, y1=0.942,
                   line=dict(color="#111", width=1.3)))
annotations += [atext(0.5, 1.0, "<b>***</b>", ref=("x5", "y5"), size=14, color="#111"),
                ptext(232, 367, "β2", size=12, angle=-90),
                ptext(310, 483, "(PostFMT; β1 > 0.6)", size=11)]

# ---------------- Panel D ----------------
shapes.append(dict(type="line", xref="x6", yref="y6 domain", x0=0, x1=0, y0=0, y1=0.98,
                   line=dict(color="#c8c8c8", width=1.2)))
shapes.append(dict(type="line", xref="x6 domain", yref="y6", x0=0, x1=1, y0=0, y1=0,
                   line=dict(color="#c8c8c8", width=1.2)))
d_sets = [d_s18, d_s15, d_s16, d_young, d_fricke]
d_cols = ["rgba(105,105,105,0.65)", "rgba(30,30,255,0.6)", "rgba(40,215,40,0.6)", "rgba(165,85,230,0.65)",
          "rgba(255,45,45,0.65)"]
for pts_d, col in zip(d_sets, d_cols):
    fig.add_trace(go.Scatter(x=[p[0] for p in pts_d], y=[p[1] for p in pts_d], mode="markers",
                             xaxis="x6", yaxis="y6", marker=dict(color=col, size=5.5),
                             hoverinfo="skip", showlegend=False))
annotations += [parrow(649, 497, 640, 497, size=1.2), parrow(442, 295, 442, 304, size=1.2),
                ptext(639, 484, "<b>β1</b>", size=13), ptext(464, 298, "<b>β2</b>", size=13),
                ptext(525, 463, "Donor-recipient", size=11, xanchor="left"),
                ptext(525, 478, "pair (N=109)", size=11, xanchor="left"),
                ptext(447, 322, "FMT cohort", size=11.5, xanchor="left")]
leg_cols = ["rgba(245,95,95,0.9)", "rgba(95,95,255,0.9)", "rgba(95,230,95,0.9)", "rgba(140,140,140,0.9)",
            "rgba(185,125,230,0.9)"]
for i, (name, col) in enumerate(zip(d_cohorts, leg_cols)):
    cy = 336 + i * 13
    shapes.append(dict(type="circle", xref="paper", yref="paper", x0=fx(447.5), x1=fx(456.5),
                       y0=fy(cy + 4.5), y1=fy(cy - 4.5), fillcolor=col, line=dict(width=0)))
    annotations.append(ptext(462, cy, name, size=10.5, xanchor="left"))

# ---------------- Panel E ----------------
for n, vals, q1, md, q3, lo, hi, fit, blo, bhi, letters, ly in [
    (7, e1_vals, e1_q1, e1_med, e1_q3, e1_lo, e1_hi, e1_fit, e1_band_lo, e1_band_hi, e1_letters,
     [1.15, 1.2, 1.17, 1.12, 1.31, 1.17, 1.21]),
    (8, e2_vals, e2_q1, e2_med, e2_q3, e2_lo, e2_hi, e2_fit, e2_band_lo, e2_band_hi, e2_letters,
     [0.98, 1.05, 1.04, 0.95, 1.04, 1.0, 1.07]),
]:
    xs, ys = [], []
    for cat, v in zip(time_cats, vals):
        xs += [cat] * len(v)
        ys += v
    fig.add_trace(stat_box(n, time_cats, q1, md, q3, lo, hi, "#111", lw=1.6, width=0.45))
    fig.add_trace(pts_box(n, xs, ys, "#3a3a3a", 4.5, 0.5, width=0.45, jitter=1.0))
    fig.add_trace(go.Scatter(x=time_cats + time_cats[::-1], y=bhi + blo[::-1], mode="lines", fill="toself",
                             fillcolor="rgba(160,160,160,0.45)", line=dict(width=0, shape="spline"),
                             xaxis=xid(n), yaxis=yid(n), hoverinfo="skip", showlegend=False))
    fig.add_trace(go.Scatter(x=time_cats, y=fit, mode="lines", line=dict(color="#ff0000", width=3.2, shape="spline"),
                             xaxis=xid(n), yaxis=yid(n), hoverinfo="skip", showlegend=False))
    for cat, lt, yy in zip(time_cats, letters, ly):
        annotations.append(atext(cat, yy, f"<i>{lt}</i>", ref=(xid(n), yid(n)), size=12, color="#111"))
annotations += [ptext(198, 551, "Five FMT cohorts (N=109)", size=11),
                ptext(205, 787, "Time post FMT", size=11.5),
                ptext(8, 651, "β1", size=12, angle=-90),
                ptext(206, 648, "β2", size=12, angle=-90)]

# ---------------- Panel F ----------------
FAIL = "#F27872"
SUCC = "#63A363"
for n, fail, succ, fs, ss in [
    (9, f1_fail, f1_succ, (f1f_q1, f1f_med, f1f_q3, f1f_lo, f1f_hi), (f1s_q1, f1s_med, f1s_q3, f1s_lo, f1s_hi)),
    (10, f2_fail, f2_succ, (f2f_q1, f2f_med, f2f_q3, f2f_lo, f2f_hi), (f2s_q1, f2s_med, f2s_q3, f2s_lo, f2s_hi)),
]:
    for grp, vals, st, col in [("fail", fail, fs, FAIL), ("succ", succ, ss, SUCC)]:
        xs, ys = [], []
        for cat, v in zip(f_cats, vals):
            xs += [cat] * len(v)
            ys += v
        fig.add_trace(stat_box(n, f_cats, *st, "#333", lw=1.1, fill=col, group=grp))
        fig.add_trace(pts_box(n, xs, ys, "#111", 3.6, 0.7, jitter=0.8, group=grp))
for n, items in [(9, [(0, 1.147, 1.226), (1, 1.147, 1.226), (2, 1.147, 1.226)]),
                 (10, [(0, 0.87, 0.934), (1, 0.988, 1.043), (2, 0.988, 1.043)])]:
    for (ci, yl, ys) in items:
        shapes.append(dict(type="line", xref=xid(n), yref=yid(n), x0=ci - 0.3, x1=ci + 0.3, y0=yl, y1=yl,
                           line=dict(color="#111", width=1.2)))
        annotations.append(atext(ci, ys, "<b>***</b>", ref=(xid(n), yid(n)), size=10, color="#111"))
annotations += [ptext(529, 551, "Sadowsky et al (2018; N=80)", size=11),
                ptext(555, 770, "Time post FMT", size=12),
                ptext(424, 645, "β1", size=12, angle=-90),
                ptext(551, 642, "β2", size=12, angle=-90),
                ptext(471, 788, "Outcome", size=11, xanchor="left"),
                ptext(538, 788, "Failure", size=10.5, xanchor="left"),
                ptext(589, 788, "Success", size=10.5, xanchor="left")]
for (x0, col) in [(525, FAIL), (576, SUCC)]:
    shapes.append(dict(type="rect", xref="paper", yref="paper", x0=fx(x0), x1=fx(x0 + 10), y0=fy(792),
                       y1=fy(784), fillcolor=col, line=dict(color="#333", width=1)))
    shapes.append(pline(x0, 788, x0 + 10, 788, color="#333"))
    shapes.append(pline(x0 + 5, 781, x0 + 5, 784, color="#333"))
    shapes.append(pline(x0 + 5, 792, x0 + 5, 795, color="#333"))

# ---------------- Panel letters ----------------
for (px, py, s) in [(12, 19, "A"), (241, 19, "B"), (12, 283, "C"), (395, 293, "D"), (12, 550, "E"), (427, 550, "F")]:
    annotations.append(ptext(px, py, f"<b>{s}</b>", size=24, color="#000"))

fig.update_layout(template="none", width=W, height=H, margin=dict(l=0, r=0, t=0, b=0, pad=0),
                  paper_bgcolor="white", plot_bgcolor="rgba(0,0,0,0)", showlegend=False, boxmode="group",
                  boxgap=0.24, boxgroupgap=0.16, font=dict(family=FONT, size=11, color="#222"),
                  annotations=annotations, shapes=shapes, hovermode=False)
fig.write_html("out.html", config={"displayModeBar": False, "staticPlot": True},
               post_script="document.body.style.margin='0px'; document.body.style.overflow='hidden';")
